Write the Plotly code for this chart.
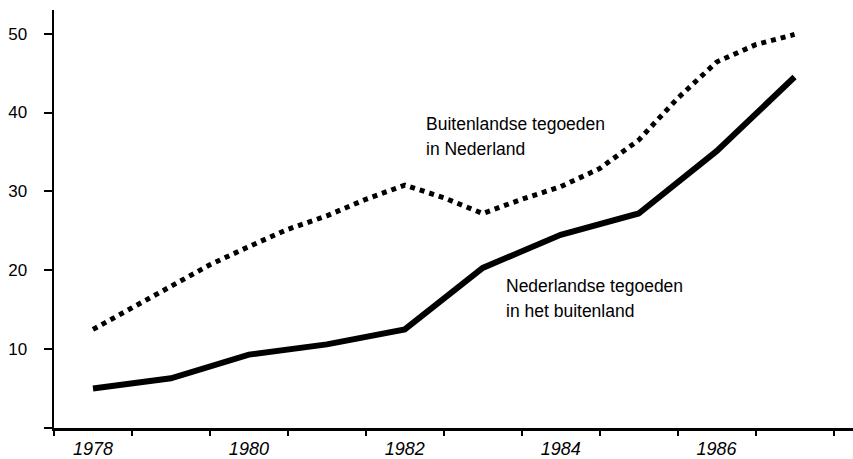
import plotly.graph_objects as go

# Buitenlandse tegoeden in Nederland (dotted)
years_buit = [1978, 1978.5, 1979, 1979.5, 1980, 1980.5, 1981, 1981.5, 1982, 1982.5,
              1983, 1983.5, 1984, 1984.5, 1985, 1985.5, 1986, 1986.5, 1987]
buitenlandse = [12.5, 15.2, 17.9, 20.7, 23.0, 25.2, 26.9, 29.0, 30.8, 29.2,
                27.2, 29.0, 30.6, 32.9, 36.5, 41.8, 46.4, 48.6, 49.9]

# Nederlandse tegoeden in het buitenland (solid)
years_ned = [1978, 1979, 1980, 1981, 1982, 1983, 1984, 1985, 1986, 1987]
nederlandse = [5.0, 6.3, 9.3, 10.6, 12.5, 20.3, 24.5, 27.2, 35.1, 44.5]

y_ticks = [0, 10, 20, 30, 40, 50]
y_ticktext = ["", "10", "20", "30", "40", "50"]
x_boundaries = [1977.5 + i for i in range(11)]
x_label_years = [1978, 1980, 1982, 1984, 1986]
x_label_text = ["1978", "1980", "1982", "1984", "1986"]

FONT = "Liberation Sans, Arial, Helvetica, sans-serif"
xr = [1977.5, 1987.75]

fig = go.Figure()
fig.add_trace(go.Scatter(x=years_buit, y=buitenlandse, mode="lines",
                         line=dict(color="black", width=5, dash="dot"),
                         showlegend=False, hoverinfo="skip"))
fig.add_trace(go.Scatter(x=years_ned, y=nederlandse, mode="lines",
                         line=dict(color="black", width=6),
                         showlegend=False, hoverinfo="skip"))
fig.add_trace(go.Scatter(x=[], y=[], xaxis="x2", showlegend=False))

ann_font = dict(family=FONT, size=17.5, color="black")
fig.add_annotation(x=1982.25, y=38.6, xref="x", yref="y", text="Buitenlandse tegoeden",
                   showarrow=False, xanchor="left", yanchor="middle", font=ann_font)
fig.add_annotation(x=1982.25, y=35.4, xref="x", yref="y", text="in Nederland",
                   showarrow=False, xanchor="left", yanchor="middle", font=ann_font)
fig.add_annotation(x=1983.27, y=18.0, xref="x", yref="y", text="Nederlandse tegoeden",
                   showarrow=False, xanchor="left", yanchor="middle", font=ann_font)
fig.add_annotation(x=1983.27, y=14.8, xref="x", yref="y", text="in het buitenland",
                   showarrow=False, xanchor="left", yanchor="middle", font=ann_font)

fig.update_layout(
    width=853, height=459,
    margin=dict(l=54, r=0, t=10, b=31, autoexpand=False),
    paper_bgcolor="white", plot_bgcolor="white",
    font=dict(family=FONT, size=17, color="black"),
    hovermode=False,
    xaxis=dict(range=xr, tickmode="array", tickvals=x_boundaries,
               showticklabels=False, ticks="outside", ticklen=5, tickwidth=2,
               tickcolor="black", showline=True, linecolor="black", linewidth=2.5,
               showgrid=False, zeroline=False, fixedrange=True, automargin=False),
    xaxis2=dict(range=xr, overlaying="x", anchor="y", side="bottom",
                tickmode="array", tickvals=x_label_years, ticktext=x_label_text,
                ticks="", showline=False, showgrid=False, zeroline=False,
                automargin=False, ticklabelstandoff=8, fixedrange=True,
                tickfont=dict(family=FONT, size=18, color="black", style="italic")),
    yaxis=dict(range=[0, 53], tickmode="array", tickvals=y_ticks, ticktext=y_ticktext,
               ticks="outside", ticklen=8, tickwidth=2, tickcolor="black",
               showline=True, linecolor="black", linewidth=2.5, automargin=False,
               showgrid=False, zeroline=False, ticklabelstandoff=13, fixedrange=True,
               tickfont=dict(family=FONT, size=17, color="black")),
)

fig.write_html("out.html", config={"displayModeBar": False, "staticPlot": True},
               post_script="document.body.style.margin='0';document.body.style.overflow='hidden';")
